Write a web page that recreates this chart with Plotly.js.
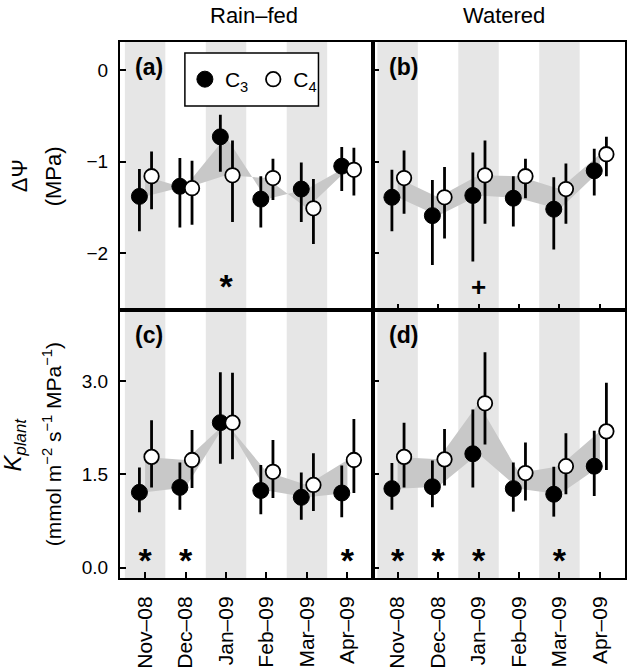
<!DOCTYPE html>
<html><head><meta charset="utf-8">
<script src="https://cdn.plot.ly/plotly-3.0.1.min.js"></script>
<style>html,body{margin:0;padding:0;background:#fff}</style>
</head><body><div id="chart" style="width:628px;height:669px"></div>
<script>
// ---------- data ----------
const months = ['Nov–08','Dec–08','Jan–09','Feb–09','Mar–09','Apr–09'];
const shadedMonths = [0, 2, 4];

// (a) Rain-fed, ΔΨ (MPa)
const c3A    = [-1.38, -1.27, -0.73, -1.41, -1.30, -1.05];
const c3A_hi = [-1.08, -0.96, -0.49, -1.16, -1.01, -0.84];
const c3A_lo = [-1.76, -1.72, -1.11, -1.72, -1.66, -1.32];
const c4A    = [-1.16, -1.29, -1.15, -1.18, -1.51, -1.09];
const c4A_hi = [-0.89, -0.99, -0.77, -0.97, -1.19, -0.85];
const c4A_lo = [-1.52, -1.69, -1.66, -1.42, -1.90, -1.37];
const sigA   = ['', '', '*', '', '', ''];

// (b) Watered, ΔΨ (MPa)
const c3B    = [-1.39, -1.59, -1.37, -1.40, -1.52, -1.10];
const c3B_hi = [-1.09, -1.20, -0.90, -1.16, -1.17, -0.86];
const c3B_lo = [-1.76, -2.13, -2.09, -1.71, -1.96, -1.37];
const c4B    = [-1.18, -1.39, -1.15, -1.16, -1.30, -0.92];
const c4B_hi = [-0.88, -1.06, -0.77, -0.97, -1.02, -0.73];
const c4B_lo = [-1.57, -1.84, -1.68, -1.40, -1.68, -1.16];
const sigB   = ['', '', '+', '', '', ''];

// (c) Rain-fed, Kplant
const c3C    = [1.21, 1.29, 2.33, 1.24, 1.13, 1.20];
const c3C_hi = [1.61, 1.69, 3.14, 1.65, 1.53, 1.64];
const c3C_lo = [0.89, 0.93, 1.67, 0.86, 0.77, 0.81];
const c4C    = [1.78, 1.73, 2.33, 1.54, 1.33, 1.73];
const c4C_hi = [2.37, 2.21, 3.13, 2.05, 1.84, 2.39];
const c4C_lo = [1.29, 1.28, 1.74, 1.12, 0.91, 1.20];
const sigC   = ['*', '*', '', '', '', '*'];

// (d) Watered, Kplant
const c3D    = [1.27, 1.30, 1.83, 1.27, 1.18, 1.63];
const c3D_hi = [1.68, 1.72, 2.54, 1.69, 1.62, 2.20];
const c3D_lo = [0.93, 0.97, 1.29, 0.90, 0.82, 1.15];
const c4D    = [1.78, 1.74, 2.64, 1.52, 1.63, 2.19];
const c4D_hi = [2.33, 2.23, 3.46, 2.01, 2.16, 2.97];
const c4D_lo = [1.29, 1.32, 1.98, 1.08, 1.18, 1.57];
const sigD   = ['*', '*', '*', '', '*', ''];

// ---------- build ----------
const FONT = 'Liberation Sans, Arial, Helvetica, sans-serif';
const idx = months.map((m, i) => i);
const XR = [-0.62, 5.62];
const DX3 = -0.14, DX4 = 0.16;

function errs(mean, hi, lo) {
  return {
    type: 'data', symmetric: false,
    array: hi.map((h, i) => h - mean[i]),
    arrayminus: lo.map((l, i) => mean[i] - l),
    width: 0, thickness: 2.8, color: 'black'
  };
}

function panel(xa, ya, c3, c3hi, c3lo, c4, c4hi, c4lo, sig, sigY, legend) {
  return [
    {x: idx, y: c3, xaxis: xa, yaxis: ya, mode: 'lines', line: {width: 0}, showlegend: false, hoverinfo: 'skip'},
    {x: idx, y: c4, xaxis: xa, yaxis: ya, mode: 'lines', line: {width: 0}, fill: 'tonexty', fillcolor: '#c8c8c8', showlegend: false, hoverinfo: 'skip'},
    {x: idx.map(i => i + DX3), y: c3, xaxis: xa, yaxis: ya, mode: 'markers', name: 'C<sub>3</sub>',
     marker: {size: 16, color: 'black', line: {color: 'black', width: 1}},
     error_y: errs(c3, c3hi, c3lo), showlegend: legend},
    {x: idx.map(i => i + DX4), y: c4, xaxis: xa, yaxis: ya, mode: 'markers', name: 'C<sub>4</sub>',
     marker: {size: 14.5, color: 'white', line: {color: 'black', width: 1.8}},
     error_y: errs(c4, c4hi, c4lo), showlegend: legend},
    {x: idx, y: idx.map(() => sigY), text: sig, xaxis: xa, yaxis: ya, mode: 'text', textposition: 'middle center',
     textfont: {family: FONT, size: sig.map(s => s === '+' ? 26 : 34), color: 'black', weight: 'bold'},
     showlegend: false, hoverinfo: 'skip'}
  ];
}

const data = [].concat(
  panel('x', 'y', c3A, c3A_hi, c3A_lo, c4A, c4A_hi, c4A_lo, sigA, -2.40, true),
  panel('x2', 'y2', c3B, c3B_hi, c3B_lo, c4B, c4B_hi, c4B_lo, sigB, -2.40, false),
  panel('x3', 'y3', c3C, c3C_hi, c3C_lo, c4C, c4C_hi, c4C_lo, sigC, 0.075, false),
  panel('x4', 'y4', c3D, c3D_hi, c3D_lo, c4D, c4D_hi, c4D_lo, sigD, 0.075, false)
);

const shapes = [];
['x', 'x2', 'x3', 'x4'].forEach((xa, k) => {
  const ya = ['y', 'y2', 'y3', 'y4'][k];
  shapes.push(...shadedMonths.map(i => ({
    type: 'rect', xref: xa, yref: ya + ' domain', layer: 'below',
    x0: Math.max(i - 0.5, XR[0]), x1: i + 0.5, y0: 0, y1: 1,
    fillcolor: '#e6e6e6', line: {width: 0}
  })));
});
// legend frame
shapes.push({type: 'rect', xref: 'paper', yref: 'paper', layer: 'above',
  x0: 0.1285, x1: 0.393, y0: 0.8806, y1: 0.9795,
  fillcolor: 'white', line: {color: 'black', width: 1.5}});

const baseX = {range: XR, showline: true, mirror: true, linecolor: 'black', linewidth: 2,
  showgrid: false, zeroline: false, tickvals: idx, ticktext: months, fixedrange: true,
  tickcolor: 'black', ticklen: 6, tickwidth: 2, tickfont: {family: FONT, size: 21, color: 'black'}};
const baseY = {showline: true, mirror: true, linecolor: 'black', linewidth: 2,
  showgrid: false, zeroline: false, ticks: 'inside', ticklen: 6, tickwidth: 2, tickcolor: 'black',
  tickfont: {family: FONT, size: 19, color: 'black'}, ticklabelstandoff: 6};

const topR = [-2.62, 0.305], botR = [-0.166, 4.14];

const layout = {
  width: 628, height: 669,
  margin: {l: 120, r: 3, t: 42, b: 91},
  paper_bgcolor: 'white', plot_bgcolor: 'white',
  font: {family: FONT, color: 'black'},
  showlegend: true,
  legend: {orientation: 'h', traceorder: 'normal', x: 0.1285, xanchor: 'left', y: 0.930, yanchor: 'middle',
    bgcolor: 'rgba(0,0,0,0)', borderwidth: 0, font: {family: FONT, size: 21, color: 'black'}},
  xaxis:  Object.assign({}, baseX, {domain: [0, 0.5], anchor: 'y', ticks: '', showticklabels: false}),
  xaxis2: Object.assign({}, baseX, {domain: [0.5, 1], anchor: 'y2', ticks: 'inside', showticklabels: false}),
  xaxis3: Object.assign({}, baseX, {domain: [0, 0.5], anchor: 'y3', ticks: 'inside', tickangle: -90, ticklabelstandoff: 8}),
  xaxis4: Object.assign({}, baseX, {domain: [0.5, 1], anchor: 'y4', ticks: 'inside', tickangle: -90, ticklabelstandoff: 8}),
  yaxis:  Object.assign({}, baseY, {domain: [0.5, 1], anchor: 'x', range: topR, tickvals: [-2, -1, 0]}),
  yaxis2: Object.assign({}, baseY, {domain: [0.5, 1], anchor: 'x2', range: topR, tickvals: [-2, -1, 0], showticklabels: false}),
  yaxis3: Object.assign({}, baseY, {domain: [0, 0.5], anchor: 'x3', range: botR, tickvals: [0, 1.5, 3], tickformat: '.1f'}),
  yaxis4: Object.assign({}, baseY, {domain: [0, 0.5], anchor: 'x4', range: botR, tickvals: [0, 1.5, 3], showticklabels: false}),
  shapes: shapes,
  annotations: [
    {text: 'Rain–fed', xref: 'paper', yref: 'paper', x: 0.265, y: 1.050, xanchor: 'center', yanchor: 'middle', showarrow: false, font: {family: FONT, size: 22}},
    {text: 'Watered', xref: 'paper', yref: 'paper', x: 0.761, y: 1.050, xanchor: 'center', yanchor: 'middle', showarrow: false, font: {family: FONT, size: 22}},
    {text: 'ΔΨ', xref: 'paper', yref: 'paper', x: -0.1996, y: 0.75, textangle: -90, xanchor: 'center', yanchor: 'middle', showarrow: false, font: {family: FONT, size: 22}},
    {text: '(MPa)', xref: 'paper', yref: 'paper', x: -0.132, y: 0.75, textangle: -90, xanchor: 'center', yanchor: 'middle', showarrow: false, font: {family: FONT, size: 22}},
    {text: '<i>K<sub>plant</sub></i>', xref: 'paper', yref: 'paper', x: -0.209, y: 0.25, textangle: -90, xanchor: 'center', yanchor: 'middle', showarrow: false, font: {family: FONT, size: 24}},
    {text: '(mmol m<sup>−2</sup> s<sup>−1</sup> MPa<sup>−1</sup>)', xref: 'paper', yref: 'paper', x: -0.134, y: 0.25, textangle: -90, xanchor: 'center', yanchor: 'middle', showarrow: false, font: {family: FONT, size: 21}},
    {text: '<b>(a)</b>', xref: 'paper', yref: 'paper', x: 0.0257, y: 0.953, xanchor: 'left', yanchor: 'middle', showarrow: false, font: {family: FONT, size: 23}},
    {text: '<b>(b)</b>', xref: 'paper', yref: 'paper', x: 0.528, y: 0.953, xanchor: 'left', yanchor: 'middle', showarrow: false, font: {family: FONT, size: 23}},
    {text: '<b>(c)</b>', xref: 'paper', yref: 'paper', x: 0.0257, y: 0.453, xanchor: 'left', yanchor: 'middle', showarrow: false, font: {family: FONT, size: 23}},
    {text: '<b>(d)</b>', xref: 'paper', yref: 'paper', x: 0.528, y: 0.453, xanchor: 'left', yanchor: 'middle', showarrow: false, font: {family: FONT, size: 23}}
  ]
};

Plotly.newPlot('chart', data, layout, {staticPlot: true, displayModeBar: false});
</script></body></html>
